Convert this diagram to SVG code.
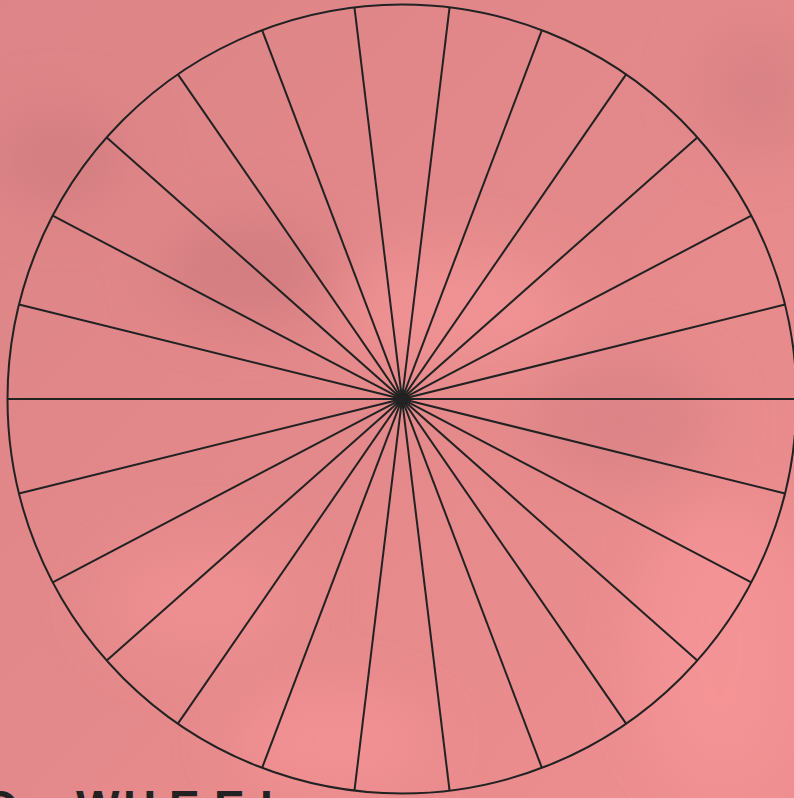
<svg xmlns="http://www.w3.org/2000/svg" width="794" height="798" viewBox="0 0 794 798">
<defs>
<linearGradient id="bg" x1="0" y1="0" x2="1" y2="1">
<stop offset="0" stop-color="#dc8487"/>
<stop offset="0.5" stop-color="#e4898b"/>
<stop offset="1" stop-color="#ee8e90"/>
</linearGradient>
<filter id="blur" x="-50%" y="-50%" width="200%" height="200%"><feGaussianBlur stdDeviation="30"/></filter>
<style>
.spoke{stroke:#222;stroke-width:2;fill:none}
.rim{stroke:#222;stroke-width:2;fill:none}
.lbl{font-family:"Liberation Sans","DejaVu Sans",sans-serif;font-weight:bold;font-size:46px;fill:#222}
</style>
</defs>
<rect width="794" height="798" fill="url(#bg)"/>
<g filter="url(#blur)" opacity="0.8">
<ellipse cx="250" cy="270" rx="90" ry="50" fill="#cf7a7e"/>
<ellipse cx="60" cy="160" rx="70" ry="50" fill="#d27d80"/>
<ellipse cx="460" cy="310" rx="120" ry="60" fill="#f39496"/>
<ellipse cx="720" cy="650" rx="80" ry="140" fill="#f79597"/>
<ellipse cx="330" cy="740" rx="100" ry="50" fill="#f59395"/>
<ellipse cx="620" cy="420" rx="90" ry="60" fill="#d88285"/>
<ellipse cx="200" cy="600" rx="100" ry="60" fill="#f09193"/>
<ellipse cx="760" cy="90" rx="60" ry="60" fill="#d58083"/>
</g>
<g id="wheel">
<circle class="rim" cx="402" cy="399" r="394.5"/>
<g class="spoke" transform="translate(402 399)">
<line x1="-394.5" y1="0" x2="394.5" y2="0"/>
<line x1="-394.5" y1="0" x2="394.5" y2="0" transform="rotate(13.846)"/>
<line x1="-394.5" y1="0" x2="394.5" y2="0" transform="rotate(27.692)"/>
<line x1="-394.5" y1="0" x2="394.5" y2="0" transform="rotate(41.538)"/>
<line x1="-394.5" y1="0" x2="394.5" y2="0" transform="rotate(55.385)"/>
<line x1="-394.5" y1="0" x2="394.5" y2="0" transform="rotate(69.231)"/>
<line x1="-394.5" y1="0" x2="394.5" y2="0" transform="rotate(83.077)"/>
<line x1="-394.5" y1="0" x2="394.5" y2="0" transform="rotate(96.923)"/>
<line x1="-394.5" y1="0" x2="394.5" y2="0" transform="rotate(110.769)"/>
<line x1="-394.5" y1="0" x2="394.5" y2="0" transform="rotate(124.615)"/>
<line x1="-394.5" y1="0" x2="394.5" y2="0" transform="rotate(138.462)"/>
<line x1="-394.5" y1="0" x2="394.5" y2="0" transform="rotate(152.308)"/>
<line x1="-394.5" y1="0" x2="394.5" y2="0" transform="rotate(166.154)"/>
</g>
<circle cx="402" cy="399" r="5" fill="#222"/>
</g>
<g id="label">
<text class="lbl" y="823"><tspan x="18" text-anchor="end">O</tspan><tspan x="76 123 169 214 260">WHEEL</tspan></text>
</g>
</svg>
